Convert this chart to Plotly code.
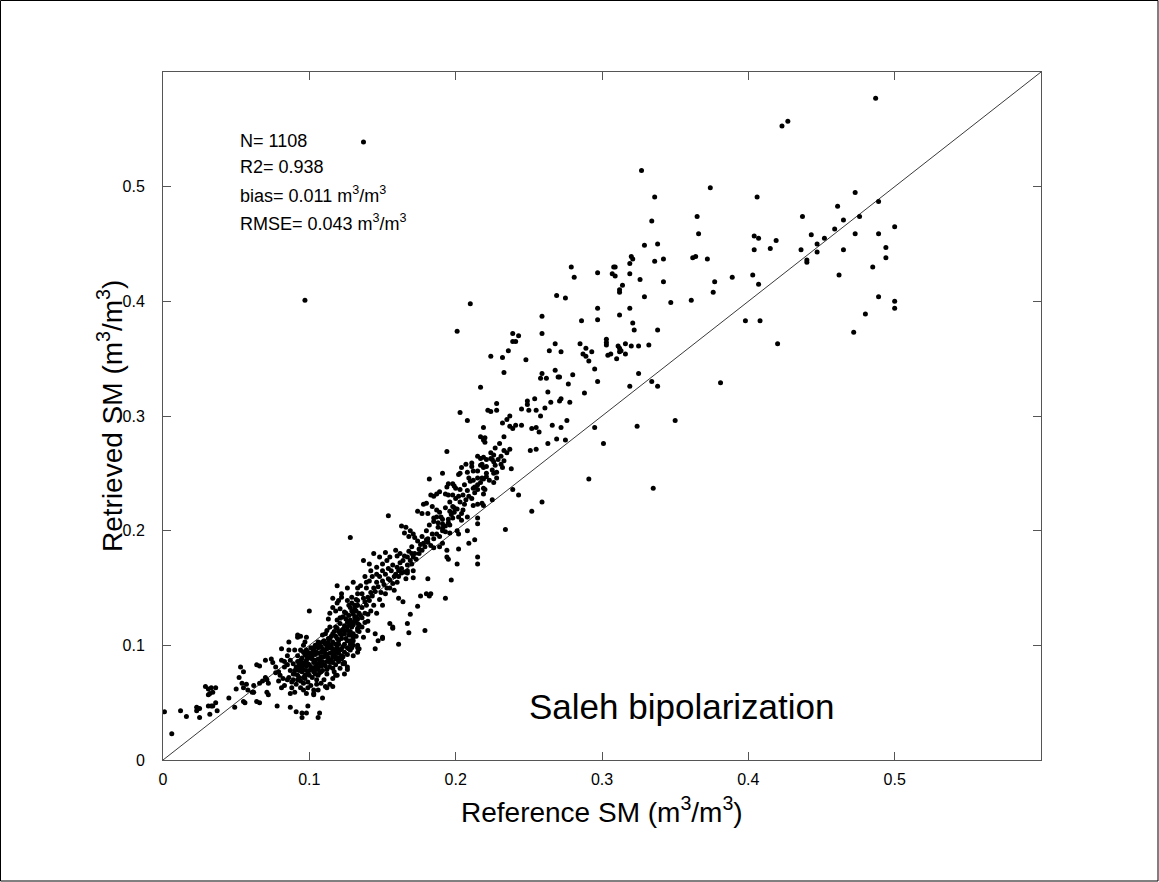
import plotly.graph_objects as go

# ---------------- data (reference SM, retrieved SM) ----------------
low_left = [
(0.001,0.042),(0.006,0.023),(0.012,0.043),(0.016,0.038),(0.023,0.046),(0.024,0.045),(0.025,0.045),
(0.023,0.043),(0.025,0.037),(0.029,0.064),(0.031,0.062),(0.033,0.063),(0.036,0.063),(0.034,0.059),
(0.032,0.058),(0.031,0.057),(0.031,0.047),(0.033,0.047),(0.034,0.047),(0.032,0.040),(0.036,0.050),
(0.037,0.043),(0.045,0.054),(0.049,0.046),(0.053,0.081),(0.052,0.072),(0.055,0.077),(0.050,0.062),
(0.054,0.067),(0.055,0.063),(0.057,0.066),(0.058,0.061),(0.061,0.059),(0.062,0.059),(0.055,0.051),
(0.056,0.050),(0.064,0.051),(0.066,0.050),(0.064,0.083),(0.066,0.082),(0.070,0.087),(0.074,0.088),
(0.062,0.065),(0.066,0.067),(0.068,0.069),(0.071,0.070),(0.072,0.067),(0.070,0.072),(0.075,0.085),
(0.077,0.081),(0.077,0.076),(0.071,0.059),(0.072,0.057),(0.079,0.077),(0.080,0.074),(0.082,0.071),
(0.078,0.047),(0.081,0.097),(0.086,0.103),(0.092,0.107),(0.092,0.109),(0.094,0.108),(0.100,0.130),
(0.098,0.107),(0.097,0.103),(0.087,0.046),(0.091,0.042),(0.095,0.041),(0.095,0.037),(0.098,0.041),
(0.107,0.041),(0.106,0.037),(0.099,0.047),(0.109,0.054),(0.106,0.061),(0.114,0.066),(0.116,0.064),
]

core = [
(0.079,0.069),(0.081,0.063),(0.083,0.065),(0.085,0.070),(0.088,0.063),(0.090,0.059),(0.087,0.058),
(0.092,0.070),(0.094,0.063),(0.096,0.067),(0.096,0.061),(0.098,0.058),(0.099,0.063),(0.103,0.061),
(0.103,0.057),(0.105,0.070),(0.107,0.076),(0.109,0.078),(0.112,0.063),(0.116,0.071),(0.119,0.074),
(0.121,0.080),(0.123,0.084),(0.118,0.083),(0.120,0.089),(0.122,0.088),(0.124,0.085),(0.126,0.081),
(0.128,0.096),(0.130,0.091),(0.133,0.094),(0.133,0.100),(0.126,0.098),(0.130,0.107),(0.124,0.117),
(0.128,0.122),(0.131,0.124),(0.129,0.130),(0.133,0.150),(0.130,0.155),(0.126,0.150),(0.122,0.145),
(0.119,0.152),(0.116,0.141),(0.119,0.137),(0.121,0.132),(0.133,0.098),(0.119,0.098),(0.116,0.097),
(0.124,0.075),(0.113,0.106),(0.115,0.100),(0.116,0.110),(0.112,0.113),(0.114,0.116),(0.107,0.087),
(0.105,0.084),(0.103,0.085),(0.100,0.089),(0.098,0.091),(0.096,0.094),(0.092,0.091),(0.094,0.087),
(0.090,0.096),(0.106,0.098),(0.105,0.094),(0.103,0.098),(0.102,0.094),(0.099,0.084),(0.098,0.078),
(0.096,0.083),(0.095,0.077),(0.092,0.080),(0.090,0.078),(0.089,0.084),(0.087,0.087),(0.085,0.091),
(0.083,0.081),(0.081,0.087),(0.086,0.096),(0.109,0.090),(0.111,0.093),(0.112,0.097),(0.109,0.103),
(0.109,0.109),(0.111,0.110),(0.113,0.123),(0.114,0.128),(0.116,0.133),(0.118,0.130),(0.120,0.139),
(0.122,0.142),(0.126,0.139),(0.129,0.142),(0.133,0.145),(0.133,0.139),(0.131,0.135),(0.128,0.133),
(0.124,0.129),(0.121,0.124),(0.119,0.122),(0.118,0.116),(0.122,0.113),(0.126,0.113),(0.129,0.116),
(0.133,0.119),(0.133,0.113),(0.130,0.110),(0.127,0.097),(0.123,0.090),(0.124,0.084),(0.126,0.079),
(0.134,0.097),(0.103,0.058),(0.117,0.077),(0.118,0.074),
(0.090,0.075),(0.093,0.072),(0.095,0.080),(0.097,0.074),(0.100,0.078),(0.102,0.072),(0.104,0.081),
(0.106,0.074),(0.108,0.082),(0.110,0.070),(0.112,0.079),(0.114,0.085),(0.116,0.080),(0.118,0.088),
(0.120,0.093),(0.122,0.097),(0.124,0.101),(0.126,0.104),(0.128,0.101),(0.130,0.104),(0.092,0.086),
(0.095,0.089),(0.097,0.085),(0.100,0.093),(0.102,0.088),(0.104,0.092),(0.106,0.088),(0.108,0.094),
(0.110,0.090),(0.112,0.086),(0.114,0.093),(0.116,0.090),(0.118,0.096),(0.120,0.101),(0.122,0.106),
(0.124,0.110),(0.126,0.120),(0.128,0.112),(0.130,0.118),(0.132,0.125),(0.134,0.128),(0.104,0.100),
(0.106,0.103),(0.108,0.099),(0.110,0.104),(0.112,0.100),(0.114,0.106),(0.116,0.103),(0.118,0.108),
(0.120,0.112),(0.099,0.068),(0.101,0.065),(0.105,0.066),(0.108,0.067),(0.111,0.064),(0.094,0.096),
(0.096,0.100),(0.098,0.096),(0.101,0.098),(0.091,0.081),(0.089,0.075),(0.087,0.078),(0.085,0.083),
(0.083,0.086),(0.119,0.115),(0.121,0.119),(0.123,0.125),(0.125,0.128),(0.127,0.135),(0.129,0.137),
(0.131,0.132),(0.133,0.135),
]

core_dense = [
(0.086,0.072),(0.088,0.068),(0.091,0.066),(0.093,0.078),(0.094,0.069),(0.097,0.071),(0.099,0.075),
(0.101,0.081),(0.103,0.077),(0.105,0.079),(0.107,0.084),(0.109,0.086),(0.111,0.082),(0.113,0.089),
(0.115,0.087),(0.117,0.092),(0.119,0.094),(0.121,0.096),(0.123,0.099),(0.125,0.106),(0.127,0.109),
(0.129,0.120),(0.131,0.121),(0.133,0.123),(0.135,0.126),(0.096,0.072),(0.098,0.087),(0.100,0.083),
(0.102,0.091),(0.104,0.087),(0.106,0.093),(0.108,0.090),(0.110,0.096),(0.112,0.092),(0.114,0.098),
(0.116,0.095),(0.118,0.101),(0.120,0.104),(0.122,0.109),(0.124,0.113),(0.126,0.116),(0.128,0.118),
(0.130,0.127),(0.132,0.130),(0.093,0.083),(0.095,0.085),(0.097,0.092),(0.099,0.094),(0.101,0.090),
(0.103,0.096),(0.105,0.100),(0.107,0.102),(0.109,0.097),(0.111,0.101),(0.113,0.103),(0.115,0.108),
(0.117,0.112),(0.119,0.106),(0.121,0.110),(0.123,0.114),(0.125,0.123),(0.127,0.126),(0.089,0.070),
(0.092,0.074),(0.094,0.082),(0.096,0.079),(0.098,0.082),(0.100,0.074),(0.102,0.079),(0.104,0.075),
(0.106,0.080),(0.108,0.077),(0.110,0.083),(0.112,0.075),(0.114,0.081),(0.116,0.085),(0.118,0.090),
(0.120,0.086),(0.122,0.091),(0.124,0.094),(0.126,0.092),(0.128,0.104),(0.130,0.100),(0.132,0.108),
(0.134,0.112),(0.136,0.116),(0.138,0.120),(0.140,0.127),
]

mid_band = [
(0.136,0.133),(0.138,0.138),(0.140,0.142),(0.142,0.146),(0.144,0.150),(0.146,0.155),(0.148,0.160),
(0.150,0.156),(0.152,0.162),(0.154,0.158),(0.156,0.165),(0.158,0.160),(0.136,0.145),(0.139,0.150),
(0.141,0.156),(0.143,0.160),(0.138,0.160),(0.135,0.152),(0.132,0.140),(0.134,0.118),(0.136,0.124),
(0.138,0.128),(0.140,0.121),(0.142,0.130),(0.144,0.135),(0.146,0.128),(0.148,0.140),(0.150,0.135),
(0.152,0.145),(0.155,0.150),(0.158,0.148),(0.160,0.155),
(0.144,0.180),(0.148,0.177),(0.152,0.181),(0.153,0.174),(0.155,0.177),(0.159,0.183),(0.160,0.178),
(0.162,0.180),(0.164,0.174),(0.167,0.177),(0.170,0.171),(0.171,0.165),(0.137,0.174),(0.141,0.171),
(0.146,0.168),(0.150,0.165),(0.154,0.167),(0.157,0.170),(0.161,0.165),(0.163,0.163),(0.167,0.165),
(0.171,0.159),(0.166,0.158),(0.167,0.163),(0.176,0.143),(0.180,0.145),(0.182,0.143),(0.183,0.145),
(0.181,0.158),(0.193,0.141),(0.197,0.157),(0.169,0.127),(0.161,0.141),(0.164,0.138),(0.155,0.119),
(0.157,0.116),(0.157,0.115),(0.167,0.119),(0.168,0.111),(0.179,0.113),(0.161,0.101),(0.137,0.107),
(0.140,0.113),(0.145,0.110),(0.147,0.104),(0.150,0.107),(0.128,0.109),(0.133,0.115),(0.129,0.098),
(0.174,0.134),(0.145,0.097),(0.150,0.106),(0.154,0.213),(0.128,0.194),
(0.163,0.204),(0.166,0.203),(0.169,0.200),(0.171,0.197),(0.165,0.198),(0.168,0.195),(0.172,0.194),
(0.174,0.191),(0.176,0.188),(0.178,0.189),(0.181,0.193),(0.184,0.197),(0.191,0.200),(0.196,0.198),
(0.201,0.200),(0.202,0.197),(0.185,0.185),(0.189,0.186),(0.191,0.189),(0.194,0.183),(0.208,0.200),
(0.209,0.189),(0.213,0.192),(0.215,0.206),(0.202,0.184),(0.195,0.175),(0.194,0.177),(0.201,0.171),
(0.215,0.177),(0.215,0.171),(0.234,0.201),
(0.162,0.172),(0.165,0.178),(0.168,0.182),(0.170,0.186),(0.172,0.180),(0.175,0.184),(0.177,0.195),
(0.180,0.200),(0.182,0.205),(0.185,0.208),(0.188,0.203),(0.190,0.212),(0.193,0.220),(0.196,0.225),
(0.198,0.221),(0.200,0.228),(0.203,0.236),(0.206,0.240),(0.209,0.246),(0.212,0.244),(0.215,0.252),
(0.218,0.258),(0.221,0.256),(0.224,0.268),(0.227,0.272),(0.230,0.276),(0.233,0.270),
]

band_dense = [
(0.137,0.141),(0.139,0.135),(0.141,0.139),(0.143,0.143),(0.145,0.147),(0.147,0.151),(0.149,0.146),
(0.151,0.153),(0.153,0.150),(0.155,0.157),(0.157,0.154),(0.159,0.162),(0.161,0.160),(0.163,0.167),
(0.165,0.164),(0.167,0.170),(0.169,0.174),(0.171,0.177),(0.173,0.175),(0.175,0.180),(0.177,0.183),
(0.179,0.186),(0.181,0.190),(0.183,0.187),(0.185,0.193),(0.187,0.197),(0.189,0.195),(0.191,0.202),
(0.193,0.199),(0.195,0.210),(0.197,0.214),(0.199,0.216),(0.201,0.219),(0.203,0.225),(0.205,0.218),
(0.207,0.227),(0.209,0.230),(0.211,0.228),(0.213,0.233),(0.215,0.236),(0.217,0.242),(0.219,0.245),
(0.221,0.247),(0.223,0.244),(0.225,0.253),(0.227,0.257),(0.229,0.262),(0.231,0.265),(0.233,0.261),
(0.235,0.268),(0.150,0.171),(0.146,0.162),(0.142,0.165),(0.139,0.155),(0.160,0.168),(0.170,0.180),
(0.180,0.192),(0.188,0.207),(0.196,0.205),(0.204,0.215),(0.212,0.222),(0.220,0.236),(0.228,0.246),
]

upper_band = [
(0.182,0.245),(0.191,0.250),(0.202,0.249),(0.203,0.250),(0.208,0.251),(0.212,0.252),(0.195,0.241),
(0.194,0.238),(0.198,0.241),(0.199,0.239),(0.200,0.237),(0.183,0.231),(0.185,0.230),(0.187,0.232),
(0.189,0.234),(0.193,0.232),(0.195,0.231),(0.198,0.231),(0.202,0.230),(0.205,0.231),(0.208,0.235),
(0.212,0.237),(0.213,0.238),(0.210,0.243),(0.215,0.246),(0.218,0.246),(0.221,0.250),(0.226,0.250),
(0.228,0.251),(0.215,0.240),(0.219,0.237),(0.219,0.232),(0.226,0.242),(0.239,0.236),(0.243,0.231),
(0.206,0.223),(0.215,0.223),(0.218,0.224),(0.219,0.222),(0.225,0.227),(0.178,0.223),(0.180,0.224),
(0.184,0.221),(0.187,0.218),(0.189,0.216),(0.187,0.212),(0.191,0.210),(0.174,0.217),(0.177,0.215),
(0.181,0.215),(0.185,0.211),(0.196,0.217),(0.199,0.220),(0.198,0.211),(0.202,0.212),(0.204,0.209),
(0.208,0.212),(0.215,0.211),(0.195,0.207),(0.193,0.204),(0.191,0.206),
(0.239,0.372),(0.243,0.370),(0.239,0.365),(0.241,0.365),(0.259,0.372),(0.268,0.363),(0.264,0.357),
(0.272,0.356),(0.224,0.352),(0.232,0.351),(0.236,0.357),(0.248,0.349),(0.233,0.338),(0.217,0.325),
(0.258,0.333),(0.259,0.337),(0.262,0.333),(0.268,0.340),(0.270,0.334),(0.271,0.334),(0.280,0.336),
(0.277,0.328),(0.263,0.321),(0.203,0.303),(0.208,0.296),(0.194,0.269),(0.222,0.305),(0.224,0.304),
(0.228,0.311),(0.228,0.305),(0.232,0.294),(0.235,0.297),(0.237,0.300),(0.245,0.306),(0.249,0.313),
(0.249,0.310),(0.250,0.305),(0.254,0.315),(0.255,0.305),(0.258,0.300),(0.261,0.307),(0.265,0.312),
(0.272,0.315),(0.271,0.313),(0.278,0.312),(0.219,0.290),(0.233,0.282),(0.241,0.292),(0.239,0.289),
(0.237,0.291),(0.245,0.292),(0.252,0.289),(0.255,0.290),(0.257,0.286),(0.266,0.292),(0.272,0.290),
(0.276,0.296),(0.217,0.282),(0.219,0.279),(0.220,0.281),(0.220,0.277),(0.237,0.271),(0.251,0.270),
(0.255,0.271),(0.263,0.276),(0.269,0.280),(0.275,0.279),(0.215,0.265),(0.217,0.263),(0.219,0.264),
(0.221,0.262),(0.224,0.263),(0.226,0.266),(0.225,0.262),(0.226,0.260),(0.231,0.258),(0.232,0.255),
(0.238,0.254),(0.211,0.259),(0.211,0.256),(0.207,0.258),(0.204,0.255),(0.217,0.257),(0.219,0.255),
(0.259,0.225),(0.252,0.217),(0.291,0.245),(0.335,0.237),(0.201,0.374),(0.210,0.398),
(0.279,0.430),(0.281,0.421),(0.269,0.405),(0.275,0.403),(0.259,0.387),
]

high_range = [
(0.366,0.459),(0.404,0.457),(0.407,0.455),(0.419,0.453),(0.329,0.449),(0.338,0.450),(0.404,0.445),
(0.415,0.446),(0.320,0.439),(0.321,0.437),(0.319,0.433),(0.342,0.437),(0.336,0.435),(0.362,0.438),
(0.364,0.439),(0.372,0.437),(0.308,0.430),(0.309,0.430),(0.297,0.425),(0.307,0.424),(0.309,0.422),
(0.319,0.424),(0.326,0.419),(0.403,0.423),(0.389,0.421),(0.377,0.417),(0.342,0.417),(0.407,0.415),
(0.314,0.414),(0.312,0.410),(0.312,0.408),(0.376,0.408),(0.329,0.404),(0.347,0.399),(0.361,0.401),
(0.297,0.394),(0.319,0.394),(0.286,0.383),(0.297,0.384),(0.312,0.388),(0.321,0.381),(0.322,0.375),
(0.338,0.375),(0.398,0.383),(0.408,0.383),(0.285,0.363),(0.289,0.359),(0.293,0.356),(0.287,0.354),
(0.289,0.352),(0.291,0.348),(0.303,0.367),(0.303,0.364),(0.303,0.362),(0.304,0.353),(0.306,0.354),
(0.310,0.350),(0.311,0.361),(0.312,0.359),(0.313,0.357),(0.312,0.356),(0.316,0.363),(0.316,0.354),
(0.320,0.361),(0.325,0.361),(0.332,0.362),(0.295,0.341),(0.297,0.330),(0.288,0.320),(0.325,0.337),
(0.319,0.326),(0.334,0.330),(0.338,0.326),(0.381,0.329),(0.420,0.363),(0.295,0.290),(0.324,0.291),
(0.350,0.296),(0.301,0.276),
(0.327,0.514),(0.374,0.499),(0.406,0.491),(0.336,0.491),(0.334,0.470),(0.365,0.474),
(0.487,0.577),(0.423,0.553),(0.427,0.557),(0.473,0.495),(0.461,0.483),(0.489,0.487),(0.437,0.474),
(0.465,0.471),(0.476,0.474),(0.500,0.465),(0.443,0.458),(0.459,0.463),(0.452,0.455),(0.447,0.450),
(0.473,0.459),(0.489,0.459),(0.436,0.445),(0.447,0.443),(0.465,0.445),(0.494,0.447),(0.440,0.436),
(0.440,0.434),(0.494,0.438),(0.485,0.430),(0.462,0.423),(0.489,0.404),(0.500,0.400),(0.500,0.394),
(0.480,0.389),(0.472,0.373),
]

outliers = [(0.137,0.539),(0.097,0.401)]

stats_lines = ["N= 1108", "R2= 0.938", "bias= 0.011 m<sup>3</sup>/m<sup>3</sup>",
               "RMSE= 0.043 m<sup>3</sup>/m<sup>3</sup>"]
stats_y = [0.540, 0.517, 0.493, 0.469]
method_label = "Saleh bipolarization"
x_title = "Reference SM (m<sup>3</sup>/m<sup>3</sup>)"
y_title = "Retrieved SM (m<sup>3</sup>/m<sup>3</sup>)"
tick_vals = [0, 0.1, 0.2, 0.3, 0.4, 0.5]
tick_text = ["0", "0.1", "0.2", "0.3", "0.4", "0.5"]
one_to_one = [0, 0.6]

# ---------------------------------------------------------------------------------------
pts = low_left + core + core_dense + mid_band + band_dense + upper_band + high_range + outliers
xs = [p[0] for p in pts]
ys = [p[1] for p in pts]

FONT = "Liberation Sans, Arial, Helvetica, sans-serif"

fig = go.Figure()
fig.add_trace(go.Scatter(x=one_to_one, y=one_to_one, mode="lines",
                         line=dict(color="#3a3a3a", width=1), hoverinfo="skip"))
fig.add_trace(go.Scatter(x=xs, y=ys, mode="markers",
                         marker=dict(color="black", size=5, line=dict(width=0))))

for t, yy in zip(stats_lines, stats_y):
    fig.add_annotation(x=0.0513, y=yy, xref="x", yref="y", text=t, showarrow=False,
                       xanchor="left", yanchor="middle",
                       font=dict(family=FONT, size=18, color="black"))

fig.add_annotation(x=0.249, y=0.047, xref="x", yref="y", text=method_label, showarrow=False,
                   xanchor="left", yanchor="middle",
                   font=dict(family=FONT, size=35, color="black"))

# axis titles
fig.add_annotation(x=0.5, y=(760 - 790) / 688, xref="paper", yref="paper", text=x_title,
                   showarrow=False, xanchor="center", yanchor="top",
                   font=dict(family=FONT, size=28, color="black"))
fig.add_annotation(x=(110 - 163) / 878, y=0.5, xref="paper", yref="paper", text=y_title,
                   showarrow=False, xanchor="center", yanchor="middle", textangle=-90,
                   font=dict(family=FONT, size=28, color="black"))

# outer border of the figure
fig.add_shape(type="rect", xref="paper", yref="paper",
              x0=(0.5 - 163) / 878, x1=(1158 - 163) / 878,
              y0=(760 - 881) / 688, y1=(760 - 0.5) / 688,
              line=dict(color="black", width=1), fillcolor="rgba(0,0,0,0)")

axis_common = dict(range=[0, 0.6], tickvals=tick_vals, ticktext=tick_text,
                   ticks="inside", ticklen=8, tickcolor="#555", showline=True,
                   linecolor="#555", linewidth=1, mirror="ticks", showgrid=False,
                   zeroline=False, tickfont=dict(family=FONT, size=16, color="black"))

fig.update_layout(
    width=1159, height=882,
    margin=dict(l=163, r=118, t=72, b=122, autoexpand=False),
    paper_bgcolor="white", plot_bgcolor="white",
    showlegend=False,
    xaxis=dict(**axis_common, ticklabelstandoff=5),
    yaxis=dict(**axis_common, ticklabelstandoff=14),
)

fig.write_html("out.html")
